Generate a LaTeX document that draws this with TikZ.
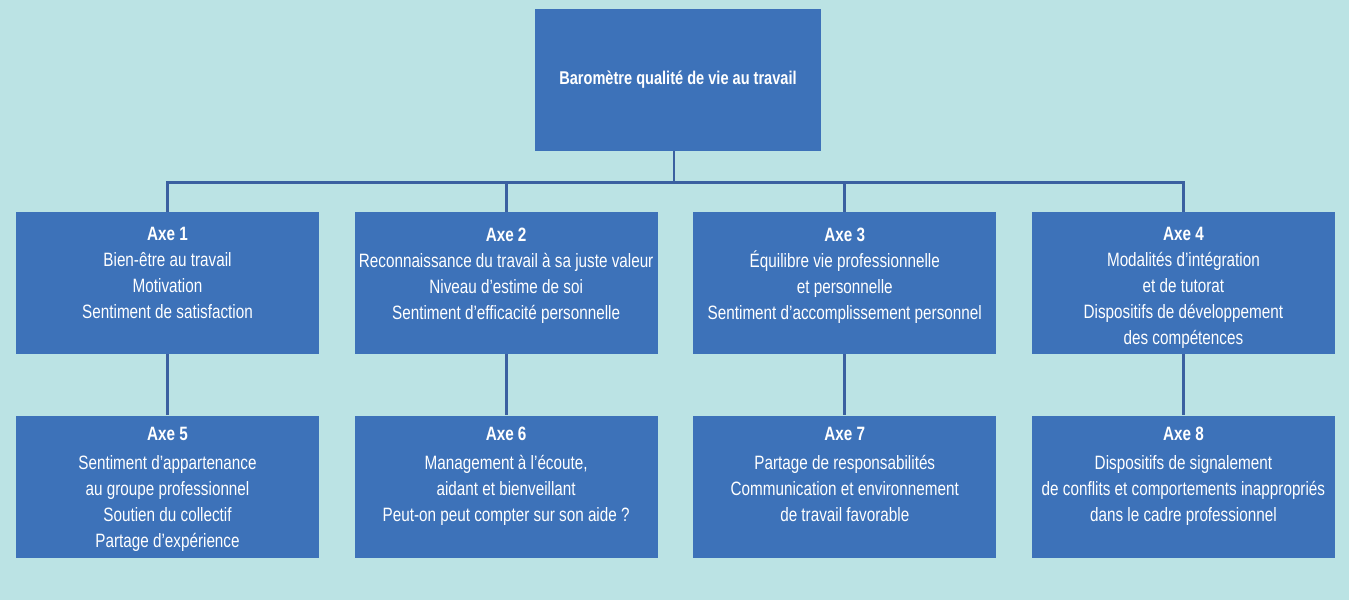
\documentclass[tikz,border=0pt]{standalone}
\usepackage{fontspec}
\setmainfont[FakeStretch=0.79]{Liberation Sans}
\usetikzlibrary{positioning}

\definecolor{bgcyan}{HTML}{BBE3E4}
\definecolor{boxblue}{HTML}{3D72B9}
\definecolor{lineblue}{HTML}{3A60A0}

\begin{document}
\begin{tikzpicture}[x=0.02cm,y=-0.02cm,node distance=0.7cm and 0.7cm]

\tikzset{axebox/.style={fill=boxblue,minimum width=6.06cm,minimum height=2.84cm,inner sep=0pt},
axetext/.style={text=white,align=center,inner sep=0pt,font=\fontsize{11}{14.8}\selectfont},
link/.style={draw=lineblue,line width=1.6pt}}

% background
\fill[bgcyan] (0,0) rectangle (1349,600);

% title box
\node[axebox,minimum width=5.72cm,text=white,font=\fontsize{10.5}{14.6}\selectfont\bfseries] (top) at (678,80) {Baromètre qualité de vie au travail};

% first row
\node[axebox] (a1) at (167.5,283) {};
\node[axebox,right=of a1] (a2) {};
\node[axebox,right=of a2] (a3) {};
\node[axebox,right=of a3] (a4) {};

% second row
\node[axebox,below=1.22cm of a1] (a5) {};
\node[axebox,below=1.22cm of a2] (a6) {};
\node[axebox,below=1.22cm of a3] (a7) {};
\node[axebox,below=1.22cm of a4] (a8) {};

% box texts, first row
\node[axetext,below=0.31cm of a1.north] (t1) {\textbf{Axe 1}\\Bien-être au travail\\Motivation\\Sentiment de satisfaction};
\node[axetext,below=0.31cm of a2.north] (t2) {\textbf{Axe 2}\\Reconnaissance du travail à sa juste valeur\\Niveau d’estime de soi\\Sentiment d’efficacité personnelle};
\node[axetext,below=0.31cm of a3.north] (t3) {\textbf{Axe 3}\\Équilibre vie professionnelle\\et personnelle\\Sentiment d’accomplissement personnel};
\node[axetext,below=0.31cm of a4.north] (t4) {\textbf{Axe 4}\\Modalités d’intégration\\et de tutorat\\Dispositifs de développement\\des compétences};

% box texts, second row
\node[axetext,below=0.225cm of a5.north] (t5) {\textbf{Axe 5}\\[2pt]Sentiment d’appartenance\\au groupe professionnel\\Soutien du collectif\\Partage d’expérience};
\node[axetext,below=0.225cm of a6.north] (t6) {\textbf{Axe 6}\\[2pt]Management à l’écoute,\\aidant et bienveillant\\Peut-on peut compter sur son aide ?};
\node[axetext,below=0.225cm of a7.north] (t7) {\textbf{Axe 7}\\[2pt]Partage de responsabilités\\Communication et environnement\\de travail favorable};
\node[axetext,below=0.225cm of a8.north] (t8) {\textbf{Axe 8}\\[2pt]Dispositifs de signalement\\de conflits et comportements inappropriés\\dans le cadre professionnel};

% connectors
\draw[link] ([xshift=-0.08cm]top.south) -- ++(0,31) coordinate (bus);
\draw[link] (a1.north) |- (bus) -| (a4.north);
\draw[link] (a2.north) -- (a2.north |- bus);
\draw[link] (a3.north) -- (a3.north |- bus);
\foreach \i/\j in {1/5,2/6,3/7,4/8} \draw[link] (a\i.south) -- (a\j.north);

\end{tikzpicture}
\end{document}
